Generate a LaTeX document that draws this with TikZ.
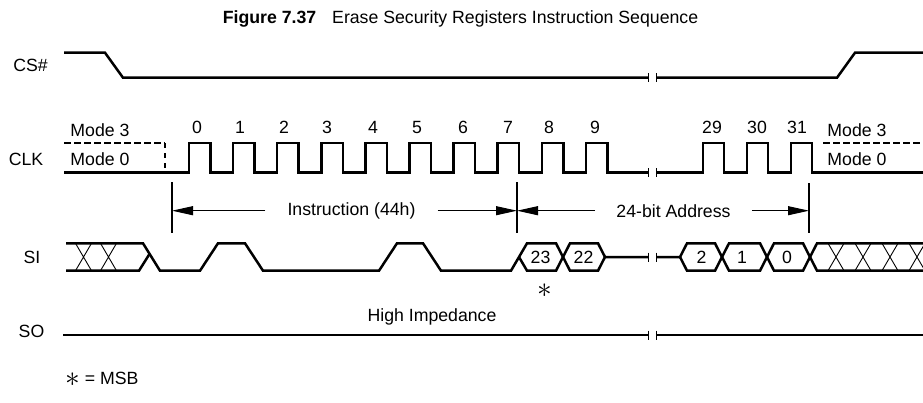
\documentclass[tikz,border=0pt]{standalone}
\usepackage{fontspec}
\setmainfont{Liberation Sans}
\usepackage{tikz}
\usetikzlibrary{arrows.meta,positioning}
\newcommand{\msbmark}{\raisebox{-0.1em}{\scalebox{1.7}{$\ast$}}}

\begin{document}
\begin{tikzpicture}[
    x=1pt,y=-1pt,
    font=\fontsize{17.7}{21}\selectfont,
    sig/.style={line width=2.5pt},
    hatch/.style={line width=0.9pt},
    brk/.style={line width=1pt},
    marker/.style={line width=1.1pt},
    dimarrow/.style={-{Triangle[length=21pt,width=9pt]},line width=1pt},
    lbl/.style={inner sep=0pt},
    span/.style={inner sep=0pt,inner xsep=22pt}
  ]
    \useasboundingbox (0,0) rectangle (923,402);
    \node[lbl] (title) at (460.5,19) {\textbf{Figure 7.37}\hspace{0.9em}Erase Security Registers Instruction Sequence};
    \node[lbl] (cs) at (30.5,65) {CS\#};
    \node[lbl] (clk) at (26,159) {CLK};
    \node[lbl] (si) at (32,257.5) {SI};
    \node[lbl] (so) at (31.5,331) {SO};
    \node[lbl] (m3l) at (100,130) {Mode 3};
    \node[lbl] (m0l) at (100,159) {Mode 0};
    \node[lbl] (m3r) at (857,130) {Mode 3};
    \node[lbl] (m0r) at (857,159) {Mode 0};
    \foreach \k/\x in {0/197,1/240,2/284,3/327,4/373,5/417,6/463,7/508,8/549,9/595,29/712,30/757,31/797}
      \node[lbl] (n\k) at (\x,127) {\k};
    \draw[sig] (64,52.7) -- (105,52.7) -- (123,77.7) -- (648,77.7);
    \draw[sig] (656,77.7) -- (837,77.7) -- (855,52.7) -- (923,52.7);
    \draw[sig,dash pattern=on 6.5pt off 3.5pt] (64,143) -- (165,143);
    \draw[sig,dash pattern=on 5pt off 5pt] (165,143) -- (165,172.7);
    \draw[sig,dash pattern=on 6.5pt off 3.5pt] (823,143) -- (923,143);
    \draw[sig] (64,172.7) foreach \k in {0,...,9} { -- (189+44.1*\k,172.7) -- (189+44.1*\k,143) -- (210.5+44.1*\k,143) -- (210.5+44.1*\k,172.7) } -- (648,172.7);
    \draw[sig] (656,172.7) foreach \r in {703,747,791} { -- (\r,172.7) -- (\r,143) -- (\r+21,143) -- (\r+21,172.7) } -- (923,172.7);
    \draw[marker] (172,182) -- (172,233);
    \draw[marker] (517,182) -- (517,233);
    \draw[marker] (809,183) -- (809,233);
    \coordinate (mkI) at (172,210.7);
    \coordinate (mkM) at (517,210.7);
    \coordinate (mkA) at (809,210.7);
    \node[span] (instr) at (351.5,210.7) {Instruction (44h)};
    \node[span,inner xsep=21pt] (addr) at (673.5,210.7) {24-bit Address};
    \draw[dimarrow] (instr) -- (mkI);
    \draw[dimarrow] (instr) -- (mkM);
    \draw[dimarrow] (addr) -- (mkM);
    \draw[dimarrow] (addr) -- (mkA);
    \draw[sig] (66,243.3) -- (143,243.3) -- (160,270.7) -- (200,270.7) -- (218,243.3) -- (245,243.3) -- (263,270.7) -- (379,270.7) -- (397,243.3) -- (423,243.3) -- (441,270.7) -- (511,270.7) -- (519,257) -- (527,243.3) -- (556,243.3) -- (570,270.7) -- (598,270.7) -- (605,257) -- (648,257);
    \draw[sig] (66,270.7) -- (139,270.7) -- (149.5,254);
    \draw[sig] (519,257) -- (527,270.7) -- (556,270.7) -- (570,243.3) -- (598,243.3) -- (605,257);
    \draw[sig] (656,257) -- (680,257) -- (687,243.3) -- (715,243.3) -- (729,270.7) -- (760,270.7) -- (774,243.3) -- (803,243.3) -- (817,270.7) -- (923,270.7);
    \draw[sig] (680,257) -- (687,270.7) -- (715,270.7) -- (729,243.3) -- (760,243.3) -- (774,270.7) -- (803,270.7) -- (817,243.3) -- (923,243.3);
    \foreach \c in {83.5,108.5,836,863,890,917}
      \draw[hatch] (\c-8,243.3) -- (\c+8,270.7) (\c-8,270.7) -- (\c+8,243.3);
    \foreach \b/\x in {23/540.5,22/583.5,2/701.5,1/742,0/787}
      \node[lbl] (b\b) at (\x,257) {\b};
    \node[lbl] (star) at (545,291) {\msbmark};
    \draw[sig] (63,335) -- (648,335);
    \draw[sig] (656,335) -- (923,335);
    \foreach \y in {77.7,172.7,257,335}
      \draw[brk] (648,\y-4.5) -- (648,\y+4.5) (656,\y-4.5) -- (656,\y+4.5);
    \node[lbl] (hiz) at (432,317) {High Impedance};
    \node[lbl,anchor=west] (msb) at (65,379) {\msbmark{} = MSB};
\end{tikzpicture}
\end{document}
